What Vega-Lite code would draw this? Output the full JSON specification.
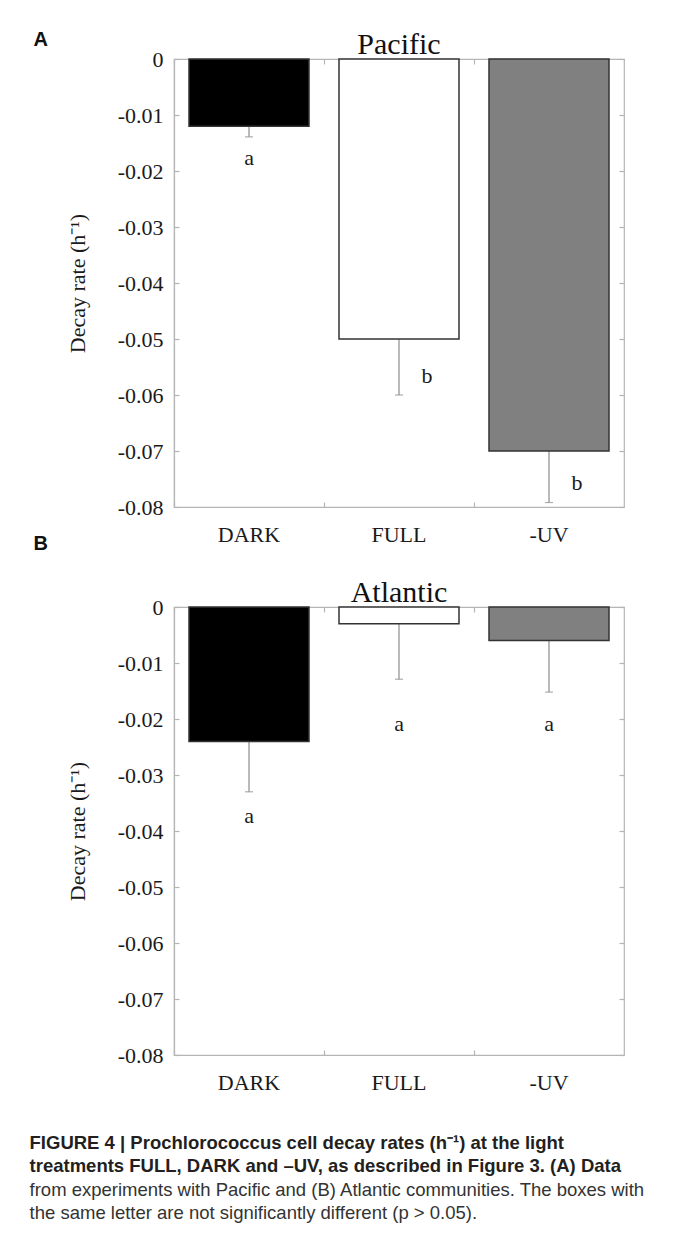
{
  "$schema": "https://vega.github.io/schema/vega-lite/v6.json",
  "padding": {"left": 29, "top": 29, "right": 0, "bottom": 0},
  "background": "white",
  "datasets": {
    "rates": [
      {"panel": "Pacific", "treatment": "DARK", "rate": -0.012, "errEnd": -0.0139, "letter": "a", "letterY": -0.0177},
      {"panel": "Pacific", "treatment": "FULL", "rate": -0.05, "errEnd": -0.06, "letter": "b", "letterY": -0.0566},
      {"panel": "Pacific", "treatment": "-UV", "rate": -0.07, "errEnd": -0.0792, "letter": "b", "letterY": -0.0757},
      {"panel": "Atlantic", "treatment": "DARK", "rate": -0.024, "errEnd": -0.033, "letter": "a", "letterY": -0.0373},
      {"panel": "Atlantic", "treatment": "FULL", "rate": -0.003, "errEnd": -0.0129, "letter": "a", "letterY": -0.0209},
      {"panel": "Atlantic", "treatment": "-UV", "rate": -0.006, "errEnd": -0.0152, "letter": "a", "letterY": -0.0209}
    ]
  },
  "config": {
    "view": {"stroke": "#b5b5b5", "strokeWidth": 1.2},
    "axis": {
      "domainColor": "#b5b5b5", "tickColor": "#b5b5b5", "domainWidth": 1.2, "tickWidth": 1.2,
      "tickSize": -5, "grid": false,
      "labelFont": "Liberation Serif", "labelFontSize": 22, "labelColor": "#1a1a1a",
      "titleFont": "Liberation Serif", "titleFontSize": 22, "titleFontWeight": "normal", "titleColor": "#1a1a1a"
    }
  },
  "title": {
    "text": ["FIGURE 4 | Prochlorococcus cell decay rates (h⁻¹) at the light", "treatments FULL, DARK and –UV, as described in Figure 3. (A) Data"],
    "subtitle": ["from experiments with Pacific and (B) Atlantic communities. The boxes with", "the same letter are not significantly different (p > 0.05)."],
    "orient": "bottom", "anchor": "start", "frame": "bounds", "offset": 40, "dx": -4,
    "font": "Liberation Sans", "fontSize": 18.5, "fontWeight": "bold", "color": "#231f20", "lineHeight": 23.5,
    "subtitleFont": "Liberation Sans", "subtitleFontSize": 18.5, "subtitleFontWeight": "normal", "subtitleColor": "#333333", "subtitleLineHeight": 23.5, "subtitlePadding": 5
  },
  "spacing": -12,
  "vconcat": [
    {
      "title": {"text": "A", "anchor": "start", "frame": "bounds", "offset": -21, "dx": -32, "font": "Liberation Sans", "fontSize": 20, "fontWeight": "bold", "color": "#111"},
      "vconcat": [
        {
          "title": {"text": "Pacific", "font": "Liberation Serif", "fontSize": 30, "fontWeight": "normal", "color": "#111", "offset": -12},
          "width": 450, "height": 448,
          "data": {"name": "rates"},
          "transform": [{"filter": "datum.panel == 'Pacific'"}],
          "layer": [
            {
              "mark": {"type": "rule", "color": "#8c8c8c", "strokeWidth": 1.2},
              "encoding": {
                "x": {"field": "treatment", "type": "nominal", "sort": ["DARK", "FULL", "-UV"], "scale": {"paddingInner": 0.2, "paddingOuter": 0.1},
                      "axis": {"orient": "bottom", "title": null, "bandPosition": -0.125, "labelAngle": 0, "labelPadding": 22}},
                "y": {"field": "rate", "type": "quantitative", "scale": {"domain": [-0.08, 0], "nice": false, "zero": false},
                      "axis": {"orient": "left", "values": [0, -0.01, -0.02, -0.03, -0.04, -0.05, -0.06, -0.07, -0.08], "labelExpr": "replace(format(datum.value, '.2~f'), '−', '-')", "title": "Decay rate (h⁻¹)", "labelPadding": 16, "titlePadding": 28}},
                "y2": {"field": "errEnd"}
              }
            },
            {
              "mark": {"type": "tick", "color": "#8c8c8c", "size": 8, "thickness": 1.2},
              "encoding": {
                "x": {"field": "treatment", "type": "nominal", "sort": ["DARK", "FULL", "-UV"],
                      "axis": {"orient": "top", "title": null, "labels": false, "domain": false, "bandPosition": -0.125}},
                "y": {"field": "errEnd", "type": "quantitative", "scale": {"domain": [-0.08, 0], "nice": false, "zero": false},
                      "axis": {"orient": "right", "values": [0, -0.01, -0.02, -0.03, -0.04, -0.05, -0.06, -0.07, -0.08], "labels": false, "domain": false, "title": null}}
              }
            },
            {
              "mark": {"type": "bar", "stroke": "#333333", "strokeWidth": 1.5},
              "encoding": {
                "x": {"field": "treatment", "type": "nominal", "sort": ["DARK", "FULL", "-UV"], "axis": null},
                "y": {"field": "rate", "type": "quantitative", "scale": {"domain": [-0.08, 0], "nice": false, "zero": false}, "axis": null},
                "y2": {"datum": 0},
                "fill": {"field": "treatment", "type": "nominal", "scale": {"domain": ["DARK", "FULL", "-UV"], "range": ["#000000", "#ffffff", "#808080"]}, "legend": null}
              }
            },
            {
              "transform": [{"filter": "datum.letterY <= datum.errEnd"}],
              "mark": {"type": "text", "font": "Liberation Serif", "fontSize": 22, "baseline": "middle", "color": "#1a1a1a"},
              "encoding": {
                "x": {"field": "treatment", "type": "nominal", "sort": ["DARK", "FULL", "-UV"], "axis": null},
                "y": {"field": "letterY", "type": "quantitative", "scale": {"domain": [-0.08, 0], "nice": false, "zero": false}, "axis": null},
                "text": {"field": "letter"}
              }
            },
            {
              "transform": [{"filter": "datum.letterY > datum.errEnd"}],
              "mark": {"type": "text", "font": "Liberation Serif", "fontSize": 22, "baseline": "middle", "color": "#1a1a1a", "dx": 28},
              "encoding": {
                "x": {"field": "treatment", "type": "nominal", "sort": ["DARK", "FULL", "-UV"], "axis": null},
                "y": {"field": "letterY", "type": "quantitative", "scale": {"domain": [-0.08, 0], "nice": false, "zero": false}, "axis": null},
                "text": {"field": "letter"}
              }
            }
          ],
          "resolve": {"axis": {"x": "independent", "y": "independent"}}
        }
      ]
    },
    {
      "title": {"text": "B", "anchor": "start", "frame": "bounds", "offset": 23, "dx": -32, "font": "Liberation Sans", "fontSize": 20, "fontWeight": "bold", "color": "#111"},
      "vconcat": [
        {
          "title": {"text": "Atlantic", "font": "Liberation Serif", "fontSize": 30, "fontWeight": "normal", "color": "#111", "offset": -12},
          "width": 450, "height": 448,
          "data": {"name": "rates"},
          "transform": [{"filter": "datum.panel == 'Atlantic'"}],
          "layer": [
            {
              "mark": {"type": "rule", "color": "#8c8c8c", "strokeWidth": 1.2},
              "encoding": {
                "x": {"field": "treatment", "type": "nominal", "sort": ["DARK", "FULL", "-UV"], "scale": {"paddingInner": 0.2, "paddingOuter": 0.1},
                      "axis": {"orient": "bottom", "title": null, "bandPosition": -0.125, "labelAngle": 0, "labelPadding": 22}},
                "y": {"field": "rate", "type": "quantitative", "scale": {"domain": [-0.08, 0], "nice": false, "zero": false},
                      "axis": {"orient": "left", "values": [0, -0.01, -0.02, -0.03, -0.04, -0.05, -0.06, -0.07, -0.08], "labelExpr": "replace(format(datum.value, '.2~f'), '−', '-')", "title": "Decay rate (h⁻¹)", "labelPadding": 16, "titlePadding": 28}},
                "y2": {"field": "errEnd"}
              }
            },
            {
              "mark": {"type": "tick", "color": "#8c8c8c", "size": 8, "thickness": 1.2},
              "encoding": {
                "x": {"field": "treatment", "type": "nominal", "sort": ["DARK", "FULL", "-UV"],
                      "axis": {"orient": "top", "title": null, "labels": false, "domain": false, "bandPosition": -0.125}},
                "y": {"field": "errEnd", "type": "quantitative", "scale": {"domain": [-0.08, 0], "nice": false, "zero": false},
                      "axis": {"orient": "right", "values": [0, -0.01, -0.02, -0.03, -0.04, -0.05, -0.06, -0.07, -0.08], "labels": false, "domain": false, "title": null}}
              }
            },
            {
              "mark": {"type": "bar", "stroke": "#333333", "strokeWidth": 1.5},
              "encoding": {
                "x": {"field": "treatment", "type": "nominal", "sort": ["DARK", "FULL", "-UV"], "axis": null},
                "y": {"field": "rate", "type": "quantitative", "scale": {"domain": [-0.08, 0], "nice": false, "zero": false}, "axis": null},
                "y2": {"datum": 0},
                "fill": {"field": "treatment", "type": "nominal", "scale": {"domain": ["DARK", "FULL", "-UV"], "range": ["#000000", "#ffffff", "#808080"]}, "legend": null}
              }
            },
            {
              "transform": [{"filter": "datum.letterY <= datum.errEnd"}],
              "mark": {"type": "text", "font": "Liberation Serif", "fontSize": 22, "baseline": "middle", "color": "#1a1a1a"},
              "encoding": {
                "x": {"field": "treatment", "type": "nominal", "sort": ["DARK", "FULL", "-UV"], "axis": null},
                "y": {"field": "letterY", "type": "quantitative", "scale": {"domain": [-0.08, 0], "nice": false, "zero": false}, "axis": null},
                "text": {"field": "letter"}
              }
            },
            {
              "transform": [{"filter": "datum.letterY > datum.errEnd"}],
              "mark": {"type": "text", "font": "Liberation Serif", "fontSize": 22, "baseline": "middle", "color": "#1a1a1a", "dx": 28},
              "encoding": {
                "x": {"field": "treatment", "type": "nominal", "sort": ["DARK", "FULL", "-UV"], "axis": null},
                "y": {"field": "letterY", "type": "quantitative", "scale": {"domain": [-0.08, 0], "nice": false, "zero": false}, "axis": null},
                "text": {"field": "letter"}
              }
            }
          ],
          "resolve": {"axis": {"x": "independent", "y": "independent"}}
        }
      ]
    }
  ]
}
